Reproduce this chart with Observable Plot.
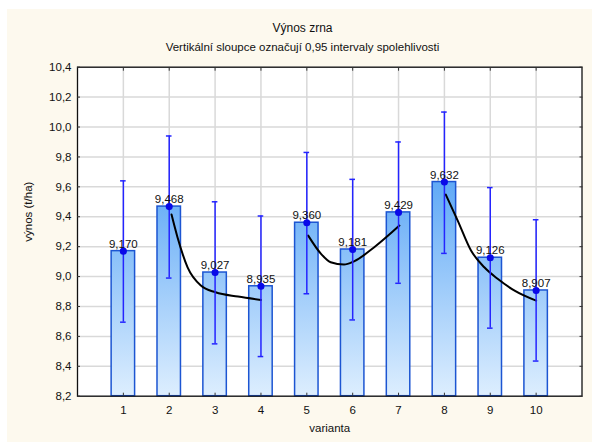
<!DOCTYPE html>
<html>
<head>
<meta charset="utf-8">
<script src="https://cdn.jsdelivr.net/npm/d3@7"></script>
<script src="https://cdn.jsdelivr.net/npm/@observablehq/plot@0.6"></script>
<style>
  body { margin: 0; background: #ffffff; font-family: "Liberation Sans", Arial, sans-serif; }
  #wrap { position: absolute; left: 7px; top: 9px; width: 585px; height: 433px; background: #fdf9ee; }
  .ttl { position: absolute; left: 3px; width: 585px; text-align: center; line-height: 14px; color: #111; }
  #chart { position: absolute; left: 0; top: 0; }
</style>
</head>
<body>
<div id="wrap">
  <div class="ttl" style="top:12px;font-size:12px">Výnos zrna</div>
  <div class="ttl" style="top:31px;font-size:11.5px">Vertikální sloupce označují 0,95 intervaly spolehlivosti</div>
  <div id="chart"></div>
</div>
<script>
const categories = [1, 2, 3, 4, 5, 6, 7, 8, 9, 10];
const means  = [9.170, 9.468, 9.027, 8.935, 9.360, 9.181, 9.429, 9.632, 9.126, 8.907];
const ciLow  = [8.695, 8.990, 8.550, 8.465, 8.885, 8.710, 8.955, 9.155, 8.655, 8.435];
const ciHigh = [9.640, 9.940, 9.500, 9.405, 9.830, 9.650, 9.900, 10.100, 9.595, 9.380];
const yTicks = [8.2, 8.4, 8.6, 8.8, 9.0, 9.2, 9.4, 9.6, 9.8, 10.0, 10.2, 10.4];
const yDomain = [8.2, 10.4];
const xDomain = [0, 11];

// fitted curves
const curveA_x = [2.05, 2.18, 2.40, 2.69, 3.01, 3.50, 4.00];
const curveA_y = [9.415, 9.263, 9.062, 8.940, 8.895, 8.866, 8.844];
const curveB_x = [5.03, 5.31, 5.52, 5.81, 6.03, 6.47, 7.02];
const curveB_y = [9.274, 9.152, 9.096, 9.080, 9.102, 9.196, 9.341];
const curveC_x = [8.03, 8.29, 8.58, 8.87, 9.16, 9.53, 10.00];
const curveC_y = [9.548, 9.374, 9.174, 9.062, 8.985, 8.906, 8.839];

const fmt1 = d => d.toFixed(1).replace(".", ",");
const fmt3 = d => d.toFixed(3).replace(".", ",");

const data = categories.map((c, i) => ({cat: c, mean: means[i], lo: ciLow[i], hi: ciHigh[i]}));
const curves = [
  ...curveA_x.map((x, i) => ({g: "A", x, y: curveA_y[i]})),
  ...curveB_x.map((x, i) => ({g: "B", x, y: curveB_y[i]})),
  ...curveC_x.map((x, i) => ({g: "C", x, y: curveC_y[i]}))
];

const NS = "http://www.w3.org/2000/svg";
function gradientDefs(index, scales, values, dims) {
  const ys = scales.y;
  const top = ys ? ys(9.7) : dims.marginTop;
  const bot = ys ? ys(yDomain[0]) : dims.height - dims.marginBottom;
  const defs = document.createElementNS(NS, "defs");
  const g = document.createElementNS(NS, "linearGradient");
  g.setAttribute("id", "barGrad");
  g.setAttribute("gradientUnits", "userSpaceOnUse");
  g.setAttribute("x1", 0); g.setAttribute("x2", 0);
  g.setAttribute("y1", top); g.setAttribute("y2", bot);
  [[0, "#5aa6f6"], [1, "#ddeefe"]].forEach(([o, c]) => {
    const s = document.createElementNS(NS, "stop");
    s.setAttribute("offset", o); s.setAttribute("stop-color", c);
    g.appendChild(s);
  });
  defs.appendChild(g);
  return defs;
}

const chart = Plot.plot({
  width: 585,
  height: 433,
  marginLeft: 70,
  marginRight: 10.5,
  marginTop: 57.7,
  marginBottom: 46.3,
  style: {background: "transparent", fontFamily: "Liberation Sans, Arial, sans-serif", fontSize: "11px", color: "#111"},
  x: {domain: xDomain},
  y: {domain: yDomain},
  marks: [
    gradientDefs,
    Plot.frame({fill: "white", stroke: null}),
    Plot.gridY(yTicks, {stroke: "#d9d9d9", strokeOpacity: 1, strokeWidth: 1.5}),
    Plot.gridX(categories, {stroke: "#d9d9d9", strokeOpacity: 1, strokeWidth: 1.5}),
    Plot.rectY(data, {x1: d => d.cat - 0.5, x2: d => d.cat + 0.5, y1: yDomain[0], y2: "mean",
      insetLeft: 11.2, insetRight: 11.2, fill: "url(#barGrad)", stroke: "#1c55d2", strokeWidth: 1.5}),
    Plot.line(curves, {x: "x", y: "y", z: "g", curve: "monotone-x", stroke: "black", strokeWidth: 2}),
    Plot.ruleX(data, {x: "cat", y1: "lo", y2: "hi", stroke: "#2424ff", strokeWidth: 1.5}),
    Plot.ruleY(data, {y: "hi", x1: "cat", x2: "cat", insetLeft: -2.8, insetRight: -2.8, stroke: "#2424ff", strokeWidth: 1.5}),
    Plot.ruleY(data, {y: "lo", x1: "cat", x2: "cat", insetLeft: -2.8, insetRight: -2.8, stroke: "#2424ff", strokeWidth: 1.5}),
    Plot.dot(data, {x: "cat", y: "mean", r: 2.8, fill: "#0a0ae8", stroke: "#0a0ae8"}),
    Plot.text(data, {x: "cat", y: "mean", text: d => fmt3(d.mean), dy: -7, fill: "#111", fontSize: 11.5}),
    Plot.frame({stroke: "#111", strokeWidth: 1.3}),
    Plot.axisY(yTicks, {anchor: "left", tickSize: -3, tickPadding: 9, tickFormat: fmt1, label: null, stroke: "#333", fontSize: 11.5}),
    Plot.axisY(yTicks, {anchor: "right", tickSize: -3, tickFormat: () => "", label: null, stroke: "#333"}),
    Plot.axisX(categories, {anchor: "bottom", tickSize: -3, tickPadding: 13, tickFormat: d => String(d), label: null, stroke: "#333", fontSize: 11.5}),
    Plot.axisX(categories, {anchor: "top", tickSize: -3, tickFormat: () => "", label: null, stroke: "#333"}),
    Plot.text(["výnos (t/ha)"], {text: d => d, frameAnchor: "left", dx: -49, dy: 10, rotate: -90, fontSize: 11.5, fill: "#111"}),
    Plot.text(["varianta"], {text: d => d, frameAnchor: "bottom", dy: 36, fontSize: 11.5, fill: "#111"})
  ]
});
document.getElementById("chart").appendChild(chart);
</script>
</body>
</html>
